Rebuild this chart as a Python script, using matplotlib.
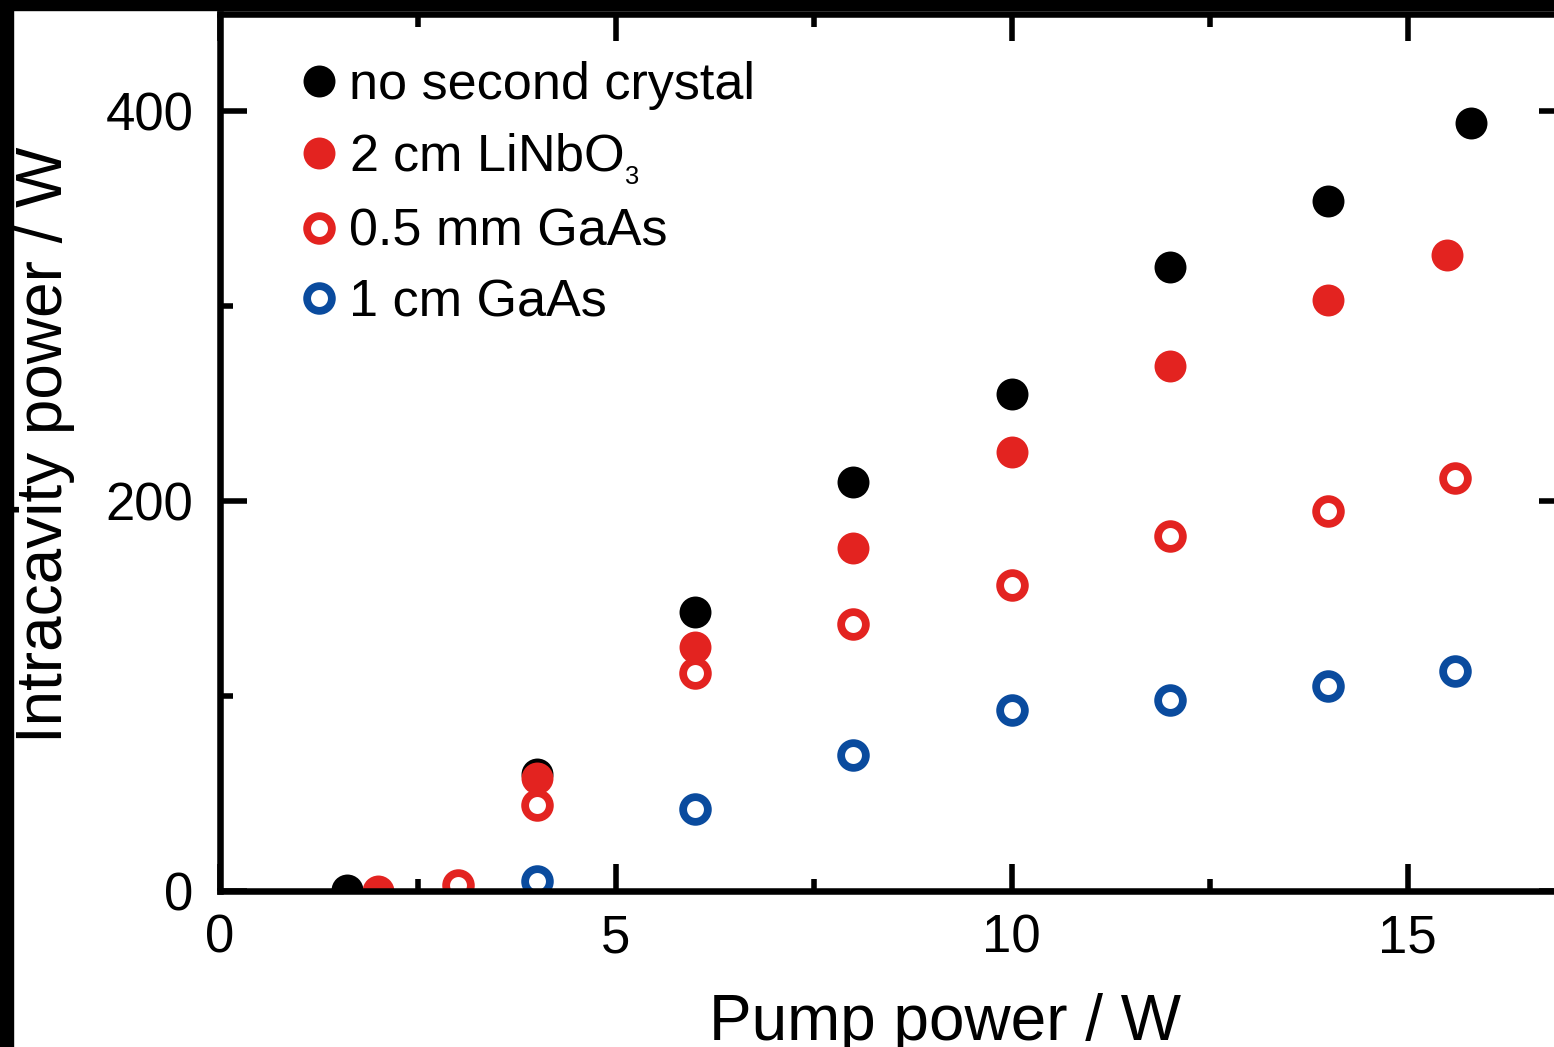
import matplotlib
matplotlib.use('Agg')
import matplotlib.pyplot as plt
from matplotlib.patches import Rectangle
from matplotlib.ticker import MultipleLocator

plt.rcParams['font.family'] = ['Liberation Sans', 'DejaVu Sans']
plt.rcParams['mathtext.fontset'] = 'custom'
plt.rcParams['mathtext.rm'] = 'Liberation Sans'
plt.rcParams['mathtext.default'] = 'regular'

# pump power (W) vs intracavity power (W)
x_none = [1.6, 4, 6, 8, 10, 12, 14, 15.8]
y_none = [0.5, 60, 143, 210, 255, 320, 354, 394]

x_linbo = [2, 4, 6, 8, 10, 12, 14, 15.5]
y_linbo = [0, 58, 125, 176, 225, 269, 303, 326]

x_gaas05 = [3, 4, 6, 8, 10, 12, 14, 15.6]
y_gaas05 = [3, 44, 112, 137, 157, 182, 195, 212]

x_gaas1 = [4, 6, 8, 10, 12, 14, 15.6]
y_gaas1 = [5, 42, 70, 93, 98, 105, 113]

labels = ['no second crystal', '2 cm LiNbO$_{_3}$', '0.5 mm GaAs', '1 cm GaAs']

red = '#e32320'
blue = '#0a4b9e'

W, H = 1554, 1047
fig = plt.figure(figsize=(W / 100, H / 100), dpi=100, facecolor='white')
# axes runs past the right edge of the picture (cropped original)
ax = fig.add_axes([220 / W, 156 / H, 1346 / W, 877.5 / H])

ax.plot(x_none, y_none, 'o', color='black', ms=23, mew=0, label=labels[0])
ax.plot(x_linbo, y_linbo, 'o', color=red, ms=23, mew=0, label=labels[1])
ax.plot(x_gaas05, y_gaas05, 'o', mfc='white', mec=red, ms=17.8, mew=5.6, label=labels[2])
ax.plot(x_gaas1, y_gaas1, 'o', mfc='white', mec=blue, ms=17.8, mew=5.6, label=labels[3])

ax.set_xlim(0, 17)
ax.set_ylim(0, 450)
ax.xaxis.set_major_locator(MultipleLocator(5))
ax.xaxis.set_minor_locator(MultipleLocator(2.5))
ax.yaxis.set_major_locator(MultipleLocator(200))
ax.yaxis.set_minor_locator(MultipleLocator(100))

for s in ax.spines.values():
    s.set_linewidth(4.7)
ax.tick_params(which='both', direction='in', top=True, right=True, width=4)
ax.tick_params(which='major', length=19.5, labelsize=38)
ax.tick_params(which='minor', length=9)
ax.tick_params(axis='x', which='major', pad=16)
ax.tick_params(axis='y', which='major', pad=19)

ax.set_xlabel('Pump power / W', fontsize=46)
ax.set_ylabel('Intracavity power / W', fontsize=46)
ax.xaxis.set_label_coords(0.539, -0.116)
ax.yaxis.set_label_coords(-0.108, 0.508)

ax.legend(loc='upper left', bbox_to_anchor=(0.064, 0.946), frameon=False,
          fontsize=37.5, numpoints=1, handlelength=0.5, handletextpad=0.33,
          labelspacing=0.41, borderpad=0, borderaxespad=0)

# black border strips of the cropped original
fig.patches.append(Rectangle((0, 0), 13 / W, 1, transform=fig.transFigure,
                             color='black', zorder=5))
fig.patches.append(Rectangle((0, 1 - 10 / H), 1, 10 / H, transform=fig.transFigure,
                             color='black', zorder=5))

fig.savefig('out.png', dpi=100, facecolor='white')
